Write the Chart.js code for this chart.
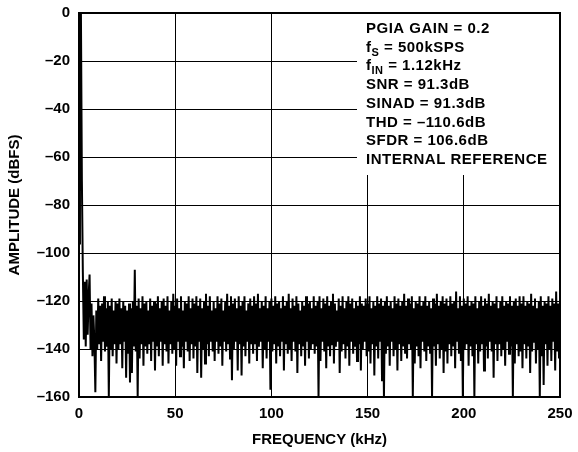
<!DOCTYPE html>
<html>
<head>
<meta charset="utf-8">
<script src="https://cdn.jsdelivr.net/npm/chart.js@4"></script>
<style>
  html, body { margin: 0; padding: 0; background: #fff; }
  #wrap { width: 578px; height: 452px; position: relative; }
</style>
</head>
<body>
<div id="wrap"><canvas id="fft"></canvas></div>
<script>
// FFT bin spacing (kHz) and amplitude per bin (dBFS)
const binWidthKHz = 0.5;
const amplitudeDb = [
  // 0 - 9.5 kHz (fundamental at ~1.12 kHz)
  -96, -60, 0, -70, -108, -136, -112, -139, -111, -134, -118, -109, -140, -121, -143, -126, -137, -158, -124, -140,
  // 10 - 19.5
  -119, -138, -122, -145, -121, -137, -118, -141, -123, -139, -120, -160, -122, -140, -119, -143, -124, -138, -120, -146,
  // 20 - 29.5
  -121, -140, -119, -138, -123, -148, -120, -137, -122, -152, -124, -142, -121, -154, -123, -150, -120, -139, -107, -141,
  // 30 - 39.5
  -122, -160, -119, -144, -123, -138, -118, -147, -121, -139, -120, -142, -124, -138, -119, -145, -122, -137, -120, -149,
  // 40 - 49.5
  -121, -139, -118, -143, -123, -137, -120, -147, -119, -138, -122, -141, -118, -146, -124, -138, -120, -142, -117, -140,
  // 50 - 59.5
  -122, -147, -119, -137, -123, -143, -118, -139, -124, -148, -120, -137, -121, -141, -118, -145, -123, -138, -119, -144,
  // 60 - 69.5
  -121, -139, -118, -150, -122, -137, -119, -152, -123, -140, -120, -146, -117, -138, -122, -143, -118, -137, -124, -141,
  // 70 - 79.5
  -120, -145, -123, -137, -118, -142, -121, -139, -119, -147, -124, -137, -120, -141, -117, -138, -122, -144, -118, -153,
  // 80 - 89.5
  -121, -140, -119, -137, -123, -149, -118, -138, -122, -151, -120, -139, -118, -143, -124, -137, -121, -146, -119, -138,
  // 90 - 99.5
  -122, -142, -118, -138, -121, -145, -117, -139, -123, -137, -120, -148, -122, -140, -118, -144, -123, -137, -120, -157,
  // 100 - 109.5
  -119, -141, -122, -138, -118, -146, -121, -139, -120, -143, -123, -137, -118, -149, -122, -138, -120, -142, -117, -140,
  // 110 - 119.5
  -123, -145, -119, -137, -122, -141, -118, -150, -121, -138, -124, -143, -120, -139, -122, -147, -118, -137, -121, -144,
  // 120 - 129.5
  -120, -140, -123, -138, -118, -142, -122, -139, -120, -160, -118, -145, -123, -137, -119, -141, -121, -148, -118, -139,
  // 130 - 139.5
  -122, -143, -120, -138, -117, -146, -121, -139, -124, -137, -119, -150, -122, -141, -118, -138, -123, -144, -120, -139,
  // 140 - 149.5
  -118, -147, -121, -137, -119, -142, -123, -139, -120, -145, -122, -138, -118, -149, -121, -140, -122, -137, -119, -143,
  // 150 - 159.5
  -121, -141, -118, -146, -123, -138, -120, -151, -122, -139, -118, -144, -121, -137, -119, -153, -122, -160, -120, -142,
  // 160 - 169.5
  -118, -139, -122, -147, -120, -137, -123, -143, -118, -140, -121, -149, -119, -138, -122, -145, -120, -139, -117, -142,
  // 170 - 179.5
  -122, -144, -119, -138, -121, -140, -118, -160, -123, -146, -120, -139, -121, -143, -118, -148, -122, -137, -120, -141,
  // 180 - 189.5
  -118, -145, -122, -139, -120, -142, -123, -160, -119, -139, -121, -147, -117, -138, -122, -144, -120, -140, -118, -150,
  // 190 - 199.5
  -121, -141, -119, -146, -122, -138, -118, -143, -121, -139, -120, -148, -116, -137, -123, -142, -118, -145, -122, -160,
  // 200 - 209.5
  -119, -140, -121, -138, -118, -147, -122, -139, -120, -143, -121, -160, -118, -138, -123, -146, -120, -141, -118, -138,
  // 210 - 219.5
  -122, -149, -119, -139, -121, -144, -117, -137, -122, -141, -120, -152, -121, -138, -118, -145, -123, -138, -120, -143,
  // 220 - 229.5
  -118, -140, -122, -147, -120, -137, -121, -142, -118, -139, -122, -160, -120, -146, -119, -138, -122, -143, -118, -141,
  // 230 - 239.5
  -121, -148, -118, -138, -122, -144, -120, -139, -121, -150, -117, -141, -122, -137, -119, -146, -123, -140, -120, -160,
  // 240 - 250
  -118, -143, -122, -155, -120, -138, -121, -147, -118, -140, -122, -145, -119, -137, -121, -149, -116, -141, -121, -144,
  -120
];

const xTicks = [0, 50, 100, 150, 200, 250];
const yTicks = [0, -20, -40, -60, -80, -100, -120, -140, -160];

const infoLines = [
  { main: "PGIA GAIN = 0.2" },
  { main: "f", sub: "S", rest: " = 500kSPS" },
  { main: "f", sub: "IN", rest: " = 1.12kHz" },
  { main: "SNR = 91.3dB" },
  { main: "SINAD = 91.3dB" },
  { main: "THD = \u2013110.6dB" },
  { main: "SFDR = 106.6dB" },
  { main: "INTERNAL REFERENCE" }
];

const FONT = "'Liberation Sans', Arial, Helvetica, sans-serif";
Chart.defaults.font.family = FONT;
Chart.defaults.font.size = 15;
Chart.defaults.font.weight = "bold";
Chart.defaults.color = "#000";

function dash(v) {
  return v < 0 ? "\u2013" + Math.abs(v) : String(v);
}

const infoBox = {
  id: "infoBox",
  afterDraw(chart) {
    const ctx = chart.ctx;
    const a = chart.chartArea;
    ctx.save();
    // white panel hiding the grid behind the annotation
    ctx.fillStyle = "#fff";
    ctx.fillRect(a.left + 278, a.top + 1, a.right - a.left - 279, 161);

    ctx.fillStyle = "#000";
    ctx.textBaseline = "alphabetic";
    ctx.letterSpacing = "0.5px";
    let y = a.top + 20;
    infoLines.forEach(line => {
      let x = a.left + 287;
      ctx.font = "bold 15px " + FONT;
      ctx.fillText(line.main, x, y);
      x += ctx.measureText(line.main).width;
      if (line.sub) {
        ctx.font = "bold 11px " + FONT;
        ctx.fillText(line.sub, x, y + 4);
        x += ctx.measureText(line.sub).width;
        ctx.font = "bold 15px " + FONT;
        ctx.fillText(line.rest, x, y);
      }
      y += 18.7;
    });

    // plot frame
    ctx.strokeStyle = "#000";
    ctx.lineWidth = 2;
    ctx.strokeRect(a.left, a.top, a.right - a.left, a.bottom - a.top);
    ctx.restore();
  }
};

new Chart(document.getElementById("fft"), {
  type: "line",
  data: {
    datasets: [{
      data: amplitudeDb.map((v, i) => ({ x: i * binWidthKHz, y: v })),
      borderColor: "#000",
      borderWidth: 2,
      pointRadius: 0,
      tension: 0,
      fill: false
    }]
  },
  options: {
    responsive: true,
    maintainAspectRatio: false,
    animation: false,
    events: [],
    layout: { padding: { top: 13, right: 18, left: 0, bottom: 0 } },
    plugins: { legend: { display: false }, tooltip: { enabled: false } },
    scales: {
      x: {
        type: "linear",
        min: 0,
        max: 250,
        afterBuildTicks: s => { s.ticks = xTicks.map(v => ({ value: v })); },
        afterFit: s => { s.height = 55; s.paddingLeft = 0; s.paddingRight = 0; },
        grid: { color: "#000", lineWidth: 1, drawTicks: false },
        border: { display: false },
        ticks: { padding: 8, maxRotation: 0, callback: v => dash(v) },
        title: { display: true, text: "FREQUENCY (kHz)", padding: { top: 0, bottom: 3 } }
      },
      y: {
        type: "linear",
        min: -160,
        max: 0,
        afterBuildTicks: s => { s.ticks = yTicks.map(v => ({ value: v })); },
        afterFit: s => { s.width = 79; s.paddingTop = 0; s.paddingBottom = 0; },
        grid: { color: "#000", lineWidth: 1, drawTicks: false },
        border: { display: false },
        ticks: { padding: 9, callback: v => dash(v) },
        title: { display: true, text: "AMPLITUDE (dBFS)", padding: { top: 6, bottom: 0 } }
      }
    }
  },
  plugins: [infoBox]
});
</script>
</body>
</html>
